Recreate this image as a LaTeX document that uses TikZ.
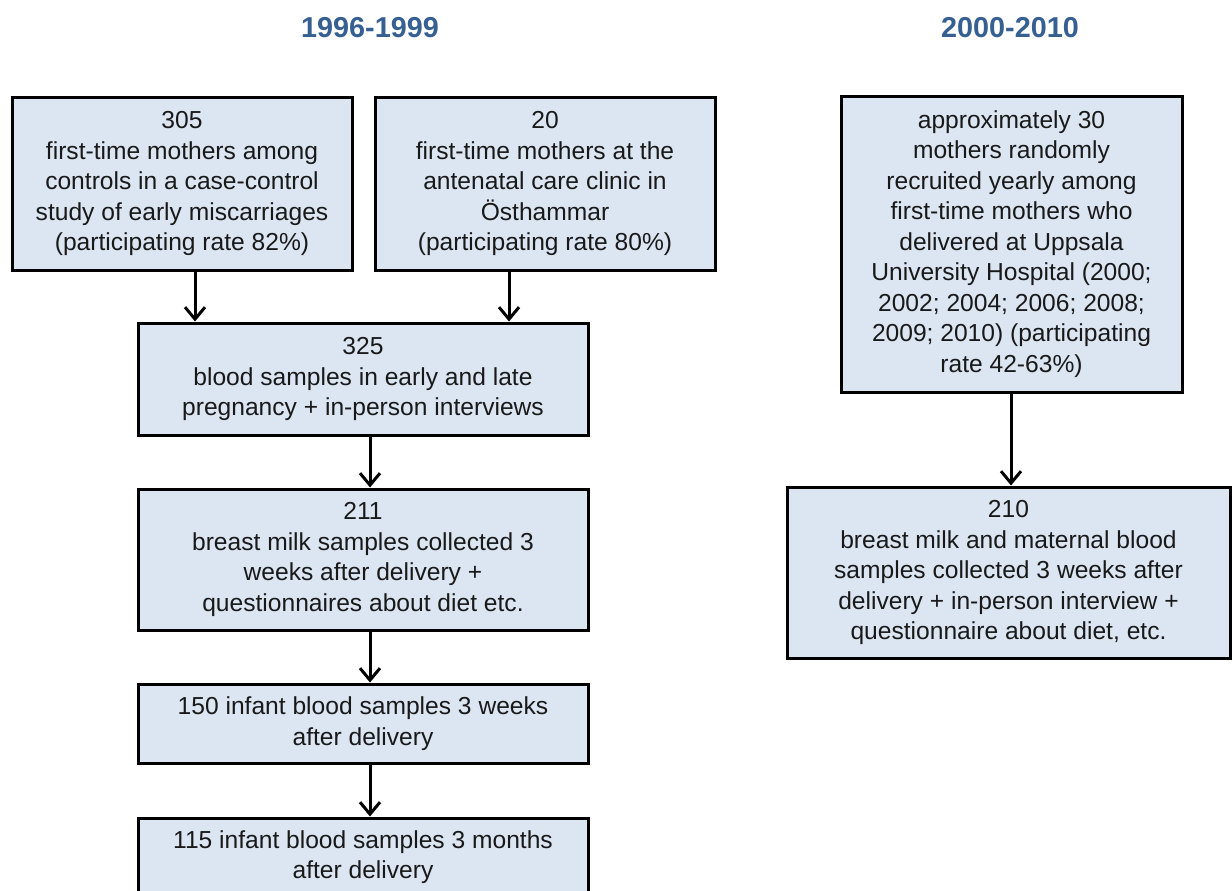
\documentclass[tikz,border=0pt]{standalone}
\usepackage{fontspec}
\setmainfont{Liberation Sans}
\usetikzlibrary{arrows.meta}
\definecolor{boxfill}{RGB}{220,230,242}
\definecolor{titleblue}{RGB}{55,96,146}
\begin{document}
\begin{tikzpicture}[x=1pt,y=1pt,
  box/.style={draw=black, line width=3pt, fill=boxfill, align=center, inner sep=0pt,
    font=\fontsize{24.6}{30.5}\selectfont, text=black!90},
  ttl/.style={font=\fontsize{28.8}{32}\selectfont\bfseries, text=titleblue},
  arr/.style={line width=3pt, -{Straight Barb[length=12pt,width=20pt]}}]
\useasboundingbox (0,0) rectangle (1232,-891);
\node[ttl] (t1) at (370,-28) {1996-1999};
\node[ttl] (t2) at (1010,-28) {2000-2010};
\node[box, minimum width=340, minimum height=173] (A) at (182,-183.5)
  {305\\first-time mothers among\\controls in a case-control\\study of early miscarriages\\(participating rate 82\%)};
\node[box, minimum width=340, minimum height=173] (B) at (545,-183.5)
  {20\\first-time mothers at the\\antenatal care clinic in\\Östhammar\\(participating rate 80\%)};
\node[box, minimum width=450, minimum height=112] (C) at (363,-379)
  {325\\blood samples in early and late\\pregnancy + in-person interviews};
\node[box, minimum width=450, minimum height=141] (D) at (363,-559.5)
  {211\\breast milk samples collected 3\\weeks after delivery +\\questionnaires about diet etc.};
\node[box, minimum width=450, minimum height=79] (E) at (363,-723.5)
  {150 infant blood samples 3 weeks\\after delivery};
\node[box, minimum width=450, minimum height=78] (F) at (363,-857)
  {115 infant blood samples 3 months\\after delivery};
\node[box, minimum width=341, minimum height=296] (G) at (1011.5,-244)
  {approximately 30\\mothers randomly\\recruited yearly among\\first-time mothers who\\delivered at Uppsala\\University Hospital (2000;\\2002; 2004; 2006; 2008;\\2009; 2010) (participating\\rate 42-63\%)};
\node[box, minimum width=443, minimum height=171] (H) at (1008.5,-572.5)
  {210\\breast milk and maternal blood\\samples collected 3 weeks after\\delivery + in-person interview +\\questionnaire about diet, etc.};
\draw[arr] (A.south -| 195,0) -- (C.north -| 195,0);
\draw[arr] (B.south -| 509,0) -- (C.north -| 509,0);
\draw[arr] (C.south -| 370,0) -- (D.north -| 370,0);
\draw[arr] (D.south -| 370,0) -- (E.north -| 370,0);
\draw[arr] (E.south -| 370,0) -- (F.north -| 370,0);
\draw[arr] (G.south -| 1011,0) -- (H.north -| 1011,0);
\end{tikzpicture}
\end{document}
